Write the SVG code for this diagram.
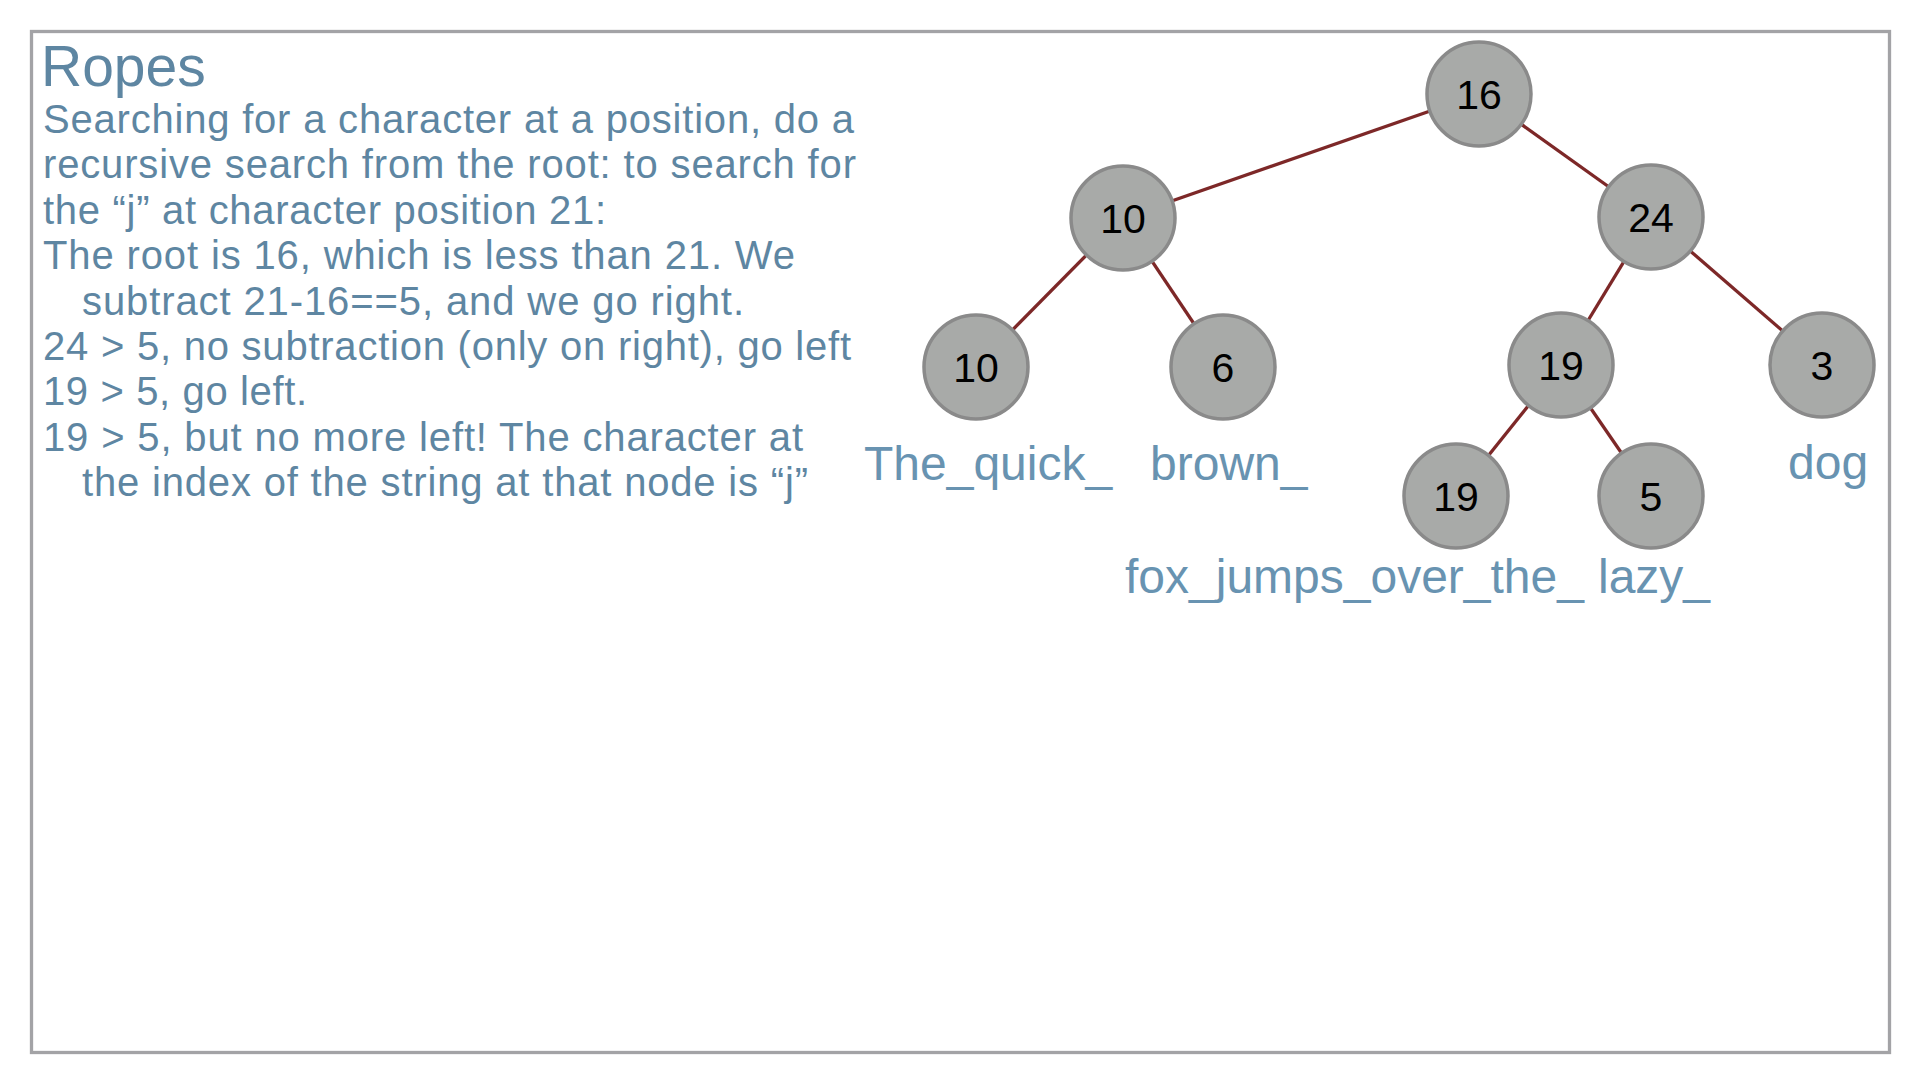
<svg xmlns="http://www.w3.org/2000/svg" width="1920" height="1080" viewBox="0 0 1920 1080">
<style>
.frame{fill:#ffffff;stroke:#a3a3a6;stroke-width:3.3}
.title{font-family:"Liberation Sans",Arial,sans-serif;font-size:57px;fill:#5e86a2}
.body{font-family:"Liberation Sans",Arial,sans-serif;font-size:40px;fill:#5e86a2}
.lbl{font-family:"Liberation Sans",Arial,sans-serif;font-size:48px;fill:#6893b1}
.node circle{fill:#a8aaa8;stroke:#8a8a8a;stroke-width:3.5}
.node text{font-family:"Liberation Sans",Arial,sans-serif;font-size:41px;fill:#000;text-anchor:middle}
.edges line{stroke:#7d2828;stroke-width:3.3}
</style>
<rect width="1920" height="1080" fill="#ffffff"/>
<rect class="frame" x="31.5" y="31.5" width="1858" height="1021"/>
<g id="text">
<text class="title" x="41" y="86">Ropes</text>
<text class="body" x="43" y="133" textLength="811">Searching for a character at a position, do a</text>
<text class="body" x="43" y="178.4" textLength="813">recursive search from the root: to search for</text>
<text class="body" x="43" y="223.8" textLength="563">the “j” at character position 21:</text>
<text class="body" x="43" y="269.2" textLength="752">The root is 16, which is less than 21. We</text>
<text class="body" x="82" y="314.6" textLength="662">subtract 21-16==5, and we go right.</text>
<text class="body" x="43" y="360" textLength="808">24 &gt; 5, no subtraction (only on right), go left</text>
<text class="body" x="43" y="405.4" textLength="264">19 &gt; 5, go left.</text>
<text class="body" x="43" y="450.8" textLength="760">19 &gt; 5, but no more left! The character at</text>
<text class="body" x="82" y="496.2" textLength="726">the index of the string at that node is “j”</text>
</g>
<g id="connectors" class="edges">
<line x1="1479" y1="94" x2="1123" y2="218"/>
<line x1="1479" y1="94" x2="1651" y2="217"/>
<line x1="1123" y1="218" x2="976" y2="367"/>
<line x1="1123" y1="218" x2="1223" y2="367"/>
<line x1="1651" y1="217" x2="1561" y2="365"/>
<line x1="1651" y1="217" x2="1822" y2="365"/>
<line x1="1561" y1="365" x2="1456" y2="496"/>
<line x1="1561" y1="365" x2="1651" y2="496"/>
</g>
<g id="n16" class="node"><circle cx="1479" cy="94" r="52"/><text x="1479" y="108.7">16</text></g>
<g id="n10a" class="node"><circle cx="1123" cy="218" r="52"/><text x="1123" y="232.7">10</text></g>
<g id="n24" class="node"><circle cx="1651" cy="217" r="52"/><text x="1651" y="231.7">24</text></g>
<g id="n10b" class="node"><circle cx="976" cy="367" r="52"/><text x="976" y="381.7">10</text></g>
<g id="n6" class="node"><circle cx="1223" cy="367" r="52"/><text x="1223" y="381.7">6</text></g>
<g id="n19a" class="node"><circle cx="1561" cy="365" r="52"/><text x="1561" y="379.7">19</text></g>
<g id="n3" class="node"><circle cx="1822" cy="365" r="52"/><text x="1822" y="379.7">3</text></g>
<g id="n19b" class="node"><circle cx="1456" cy="496" r="52"/><text x="1456" y="510.7">19</text></g>
<g id="n5" class="node"><circle cx="1651" cy="496" r="52"/><text x="1651" y="510.7">5</text></g>
<g id="labels">
<text class="lbl" x="864" y="480">The_quick_</text>
<text class="lbl" x="1150" y="480">brown_</text>
<text class="lbl" x="1788" y="479">dog</text>
<text class="lbl" x="1125" y="593">fox_jumps_over_the_</text>
<text class="lbl" x="1598" y="593">lazy_</text>
</g>
</svg>
